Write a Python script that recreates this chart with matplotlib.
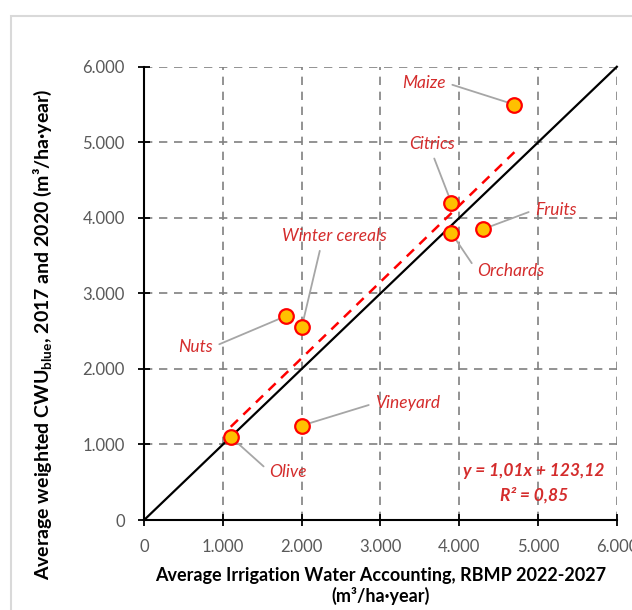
import matplotlib.pyplot as plt
from matplotlib.patches import Rectangle
from matplotlib.ticker import FuncFormatter, MultipleLocator

plt.rcParams['font.family'] = ['Lato', 'DejaVu Sans']
plt.rcParams['mathtext.fontset'] = 'custom'
plt.rcParams['mathtext.rm'] = 'Lato'
plt.rcParams['mathtext.bf'] = 'Lato:bold'

# --- Data ---
crops = ['Olive', 'Vineyard', 'Nuts', 'Winter cereals', 'Citrics', 'Orchards', 'Fruits', 'Maize']
irrigation = [1100, 2000, 1800, 2000, 3900, 3900, 4300, 4700]
cwu_blue = [1100, 1250, 2700, 2550, 4200, 3800, 3850, 5500]
label_pos = [(1830, 640), (3350, 1550), (650, 2290), (2410, 3760),
             (3650, 4980), (4650, 3300), (5230, 4110), (3550, 5790)]
# where the leader line leaves the label (fraction of text box)
label_anchor = [(0, 0.5), (0, 0.5), (1, 0.5), (0.38, 0),
                (0.5, 0), (0, 0.5), (0, 0.5), (1, 0.5)]
slope, intercept = 1.01, 123.12

RED = '#D42C2C'

fig = plt.figure(figsize=(6.32, 6.10), dpi=100)
fig.patches.append(Rectangle((11 / 632, -0.1), 1.2, (610 - 16) / 610 + 0.1,
                             transform=fig.transFigure, fill=False,
                             edgecolor='#d9d9d9', lw=1.5))
ax = fig.add_axes([0.228, 0.1475, 0.748, 0.743])

# --- Grid & axes ---
ax.set_xlim(0, 6000)
ax.set_ylim(0, 6000)
ax.xaxis.set_major_locator(MultipleLocator(1000))
ax.yaxis.set_major_locator(MultipleLocator(1000))
fmt = FuncFormatter(lambda v, p: '0' if v == 0 else f'{int(v):,}'.replace(',', '.'))
ax.xaxis.set_major_formatter(fmt)
ax.yaxis.set_major_formatter(fmt)
ax.grid(True, color='#808080', ls=(0, (5, 4)), lw=1.2)
ax.set_axisbelow(True)
for s in ['top', 'right']:
    ax.spines[s].set_visible(False)
for s in ['left', 'bottom']:
    ax.spines[s].set_linewidth(1.5)
ax.tick_params(direction='inout', length=8, width=1.3, labelsize=12,
               labelcolor='#595959')
ax.tick_params(axis='x', pad=10)
ax.tick_params(axis='y', pad=10)

# --- 1:1 line and regression ---
ax.plot([0, 6000], [0, 6000], color='black', lw=1.6, clip_on=False)
xr = [min(irrigation), max(irrigation)]
ax.plot(xr, [slope * v + intercept for v in xr], color='#FF0000', lw=1.8, ls=(0, (4, 3)))

ax.plot(irrigation, cwu_blue, 'o', ms=10.5, mfc='#FFC000', mec='#FF0000', mew=1.6, zorder=5)

# --- Labels with leader lines ---
for name, x, y, (tx, ty), rp in zip(crops, irrigation, cwu_blue, label_pos, label_anchor):
    ax.annotate(name, xy=(x, y), xytext=(tx, ty), ha='center', va='center',
                fontsize=12.5, style='italic', color=RED,
                arrowprops=dict(arrowstyle='-', color='#a6a6a6', lw=1.3,
                                shrinkA=3, shrinkB=3, relpos=rp))

ax.text(4950, 650, 'y = 1,01x + 123,12', ha='center', va='center', fontsize=12.5,
        fontweight='bold', style='italic', color=RED)
ax.text(4950, 330, 'R² = 0,85', ha='center', va='center', fontsize=12.5,
        fontweight='bold', style='italic', color=RED)

ax.set_xlabel('Average Irrigation Water Accounting, RBMP 2022-2027\n(m³/ha·year)',
              fontsize=13, fontweight='bold', labelpad=8, linespacing=1.2)
ax.set_ylabel(r'Average weighted CWU$_{\mathbf{blue}}$, 2017 and 2020 (m³/ha·year)',
              fontsize=14, fontweight='bold')
ax.yaxis.set_label_coords(-0.19, 0.41)

fig.savefig('out.png', dpi=100)
